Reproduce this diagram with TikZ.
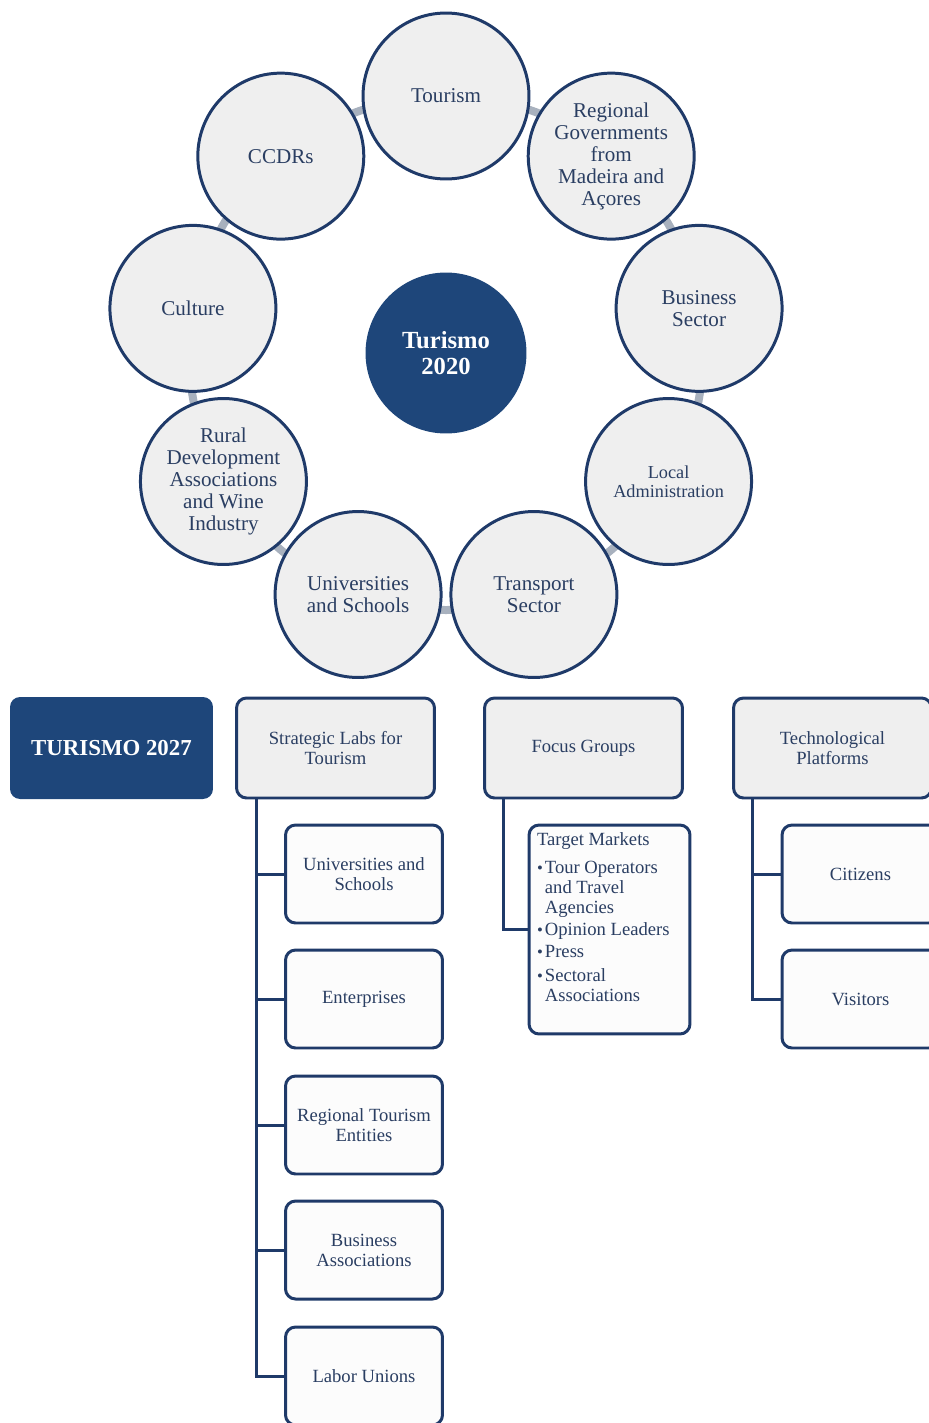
\documentclass[tikz,border=0pt]{standalone}
\usepackage{fontspec}
\setmainfont{Liberation Serif}

\definecolor{ringline}{RGB}{31,58,105}
\definecolor{deepfill}{RGB}{30,70,122}
\definecolor{softgrey}{RGB}{239,239,239}
\definecolor{paleleaf}{RGB}{252,252,252}
\definecolor{inkblue}{RGB}{42,62,98}
\definecolor{ringgrey}{RGB}{168,177,190}
\newcommand{\tmbul}{\makebox[4.5pt][l]{\fontsize{9.5}{9.5}\selectfont\textbullet}}

\begin{document}
\begin{tikzpicture}[x=0.02cm,y=0.02cm,
  petal/.style={circle,draw=ringline,line width=1.7pt,fill=softgrey,minimum size=3.32cm,inner sep=0pt,align=center,text=inkblue,font=\fontsize{12}{12.5}\selectfont},
  hub/.style={circle,fill=deepfill,minimum size=3.22cm,align=center,text=white,font=\bfseries\fontsize{14}{14.7}\selectfont},
  headbox/.style={rectangle,rounded corners=0.2cm,draw=ringline,line width=1.7pt,fill=softgrey,minimum width=3.96cm,minimum height=2cm,align=center,text=inkblue,font=\fontsize{10.6}{11.3}\selectfont},
  leafbox/.style={headbox,fill=paleleaf,minimum width=3.14cm,minimum height=1.96cm},
  link/.style={draw=ringline,line width=1.7pt}]
  \path[use as bounding box,clip] (0,0) rectangle (929,-1423);

  \node[hub] (hub) at (446,-353) {Turismo\\2020};
  \draw[ringgrey,line width=0.16cm] (hub.center) circle (257);

  \node[petal] (tou) at ([shift={(90:257)}]hub.center)  {Tourism};
  \node[petal] (reg) at ([shift={(50:257)}]hub.center)  {Regional\\Governments\\from\\Madeira and\\Açores};
  \node[petal] (bus) at ([shift={(10:257)}]hub.center)  {Business\\Sector};
  \node[petal,font=\fontsize{10.4}{11}\selectfont] (loc) at ([shift={(-30:257)}]hub.center) {Local\\Administration};
  \node[petal] (tra) at ([shift={(-70:257)}]hub.center) {Transport\\Sector};
  \node[petal] (uni) at ([shift={(-110:257)}]hub.center) {Universities\\and Schools};
  \node[petal] (rur) at ([shift={(-150:257)}]hub.center) {Rural\\Development\\Associations\\and Wine\\Industry};
  \node[petal] (cul) at ([shift={(170:257)}]hub.center) {Culture};
  \node[petal] (ccd) at ([shift={(130:257)}]hub.center) {CCDRs};

  \node[headbox,fill=deepfill,draw=none,text=white,font=\bfseries\fontsize{13}{14}\selectfont,minimum width=4.06cm,minimum height=2.04cm] (t27) at (111.5,-748) {TURISMO 2027};
  \node[headbox] (slt) at (335.5,-748) {Strategic Labs for\\Tourism};
  \node[headbox] (fgr) at (583.5,-748) {Focus Groups};
  \node[headbox] (tpl) at (832.5,-748) {Technological\\Platforms};

  \node[leafbox] (uns) at (364,-874)  {Universities and\\Schools};
  \node[leafbox] (ent) at (364,-999)  {Enterprises};
  \node[leafbox] (rte) at (364,-1125) {Regional Tourism\\Entities};
  \node[leafbox] (bas) at (364,-1250) {Business\\Associations};
  \node[leafbox] (lab) at (364,-1376) {Labor Unions};
  \node[leafbox,minimum width=0pt,minimum height=0pt,inner sep=0.16cm] (tmk) at (609.5,-929.5)
    {\parbox[c][3.86cm][t]{2.9cm}{\raggedright
      Target Markets\\[4.5pt]
      \tmbul Tour Operators\\
      \hspace*{4.5pt}and Travel\\
      \hspace*{4.5pt}Agencies\\[1.2pt]
      \tmbul Opinion Leaders\\[1.5pt]
      \tmbul Press\\[2pt]
      \tmbul Sectoral\\
      \hspace*{4.5pt}Associations}};
  \node[leafbox] (cit) at (860.5,-874) {Citizens};
  \node[leafbox] (vis) at (860.5,-999) {Visitors};

  \foreach \kid in {uns,ent,rte,bas,lab}
    \draw[link] (slt.south west) ++(21,0) |- (\kid.west);
  \draw[link] (fgr.south west) ++(20,0) |- (tmk.west);
  \foreach \kid in {cit,vis}
    \draw[link] (tpl.south west) ++(20,0) |- (\kid.west);
\end{tikzpicture}
\end{document}
